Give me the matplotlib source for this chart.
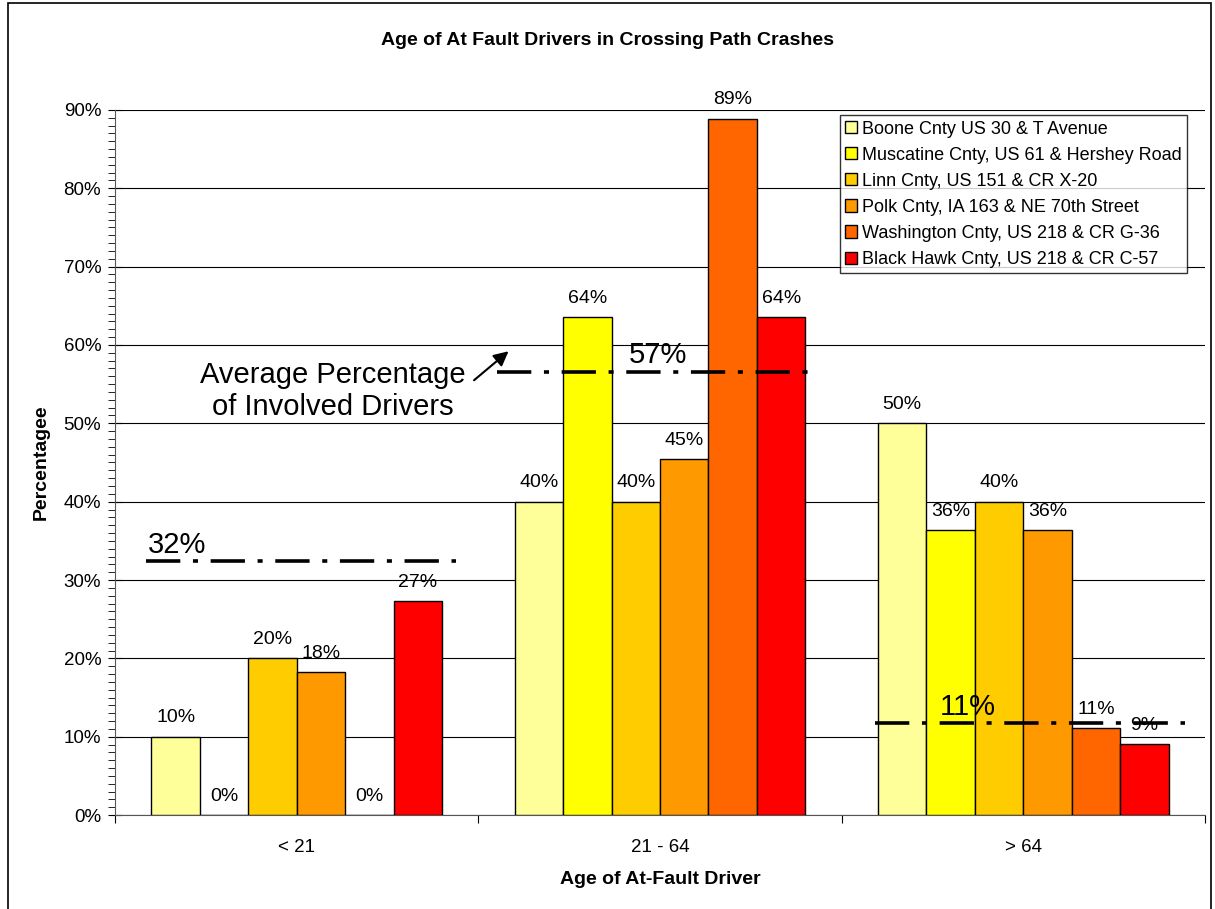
import numpy as np
import matplotlib.pyplot as plt
from matplotlib.patches import Rectangle
from matplotlib.ticker import MultipleLocator, PercentFormatter

plt.rcParams['font.family'] = ['Liberation Sans', 'DejaVu Sans']

groups = ['< 21', '21 - 64', '> 64']
sites = ['Boone Cnty US 30 & T Avenue',
         'Muscatine Cnty, US 61 & Hershey Road',
         'Linn Cnty, US 151 & CR X-20',
         'Polk Cnty, IA 163 & NE 70th Street',
         'Washington Cnty, US 218 & CR G-36',
         'Black Hawk Cnty, US 218 & CR C-57']
colors = ['#FFFF99', '#FFFF00', '#FFCC00', '#FF9900', '#FF6600', '#FF0000']

# percent of at-fault drivers, rows = sites, cols = age groups
values = [
    [10.0, 40.0, 50.0],
    [0.0, 63.6, 36.4],
    [20.0, 40.0, 40.0],
    [18.2, 45.4, 36.4],
    [0.0, 88.9, 11.1],
    [27.3, 63.6, 9.1],
]
avg_values = [32.4, 56.6, 11.7]
avg_labels = ['32%', '57%', '11%']

fig = plt.figure(figsize=(12.15, 9.09), dpi=100)
ax = fig.add_axes([0.0947, 0.1034, 0.8971, 0.7756])

x = np.arange(len(groups))
w = 0.8 / len(sites)
for i, (name, col) in enumerate(zip(sites, colors)):
    pos = x - 0.4 + w * (i + 0.5)
    ax.bar(pos, values[i], width=w, color=col, edgecolor='black',
           linewidth=1, label=name, zorder=3)
    for p, v in zip(pos, values[i]):
        ax.text(p, v + 1.3, '%d%%' % round(v), ha='center', va='bottom',
                fontsize=14, zorder=5, clip_on=False)

# average lines
starts = [-0.416, 0.551, 1.592]
ends = [0.438, 1.413, 2.446]
lab_x = [-0.41, 0.915, 1.77]
for s, e, v, t, lx in zip(starts, ends, avg_values, avg_labels, lab_x):
    ax.plot([s, e], [v, v], color='black', lw=2.6,
            linestyle=(0, (9.5, 3.5, 1.4, 3.5)), zorder=4)
    ax.text(lx, v + 0.3, t, fontsize=21, ha='left', va='bottom', zorder=6)

ax.text(0.10, 54.1, 'Average Percentage\nof Involved Drivers', fontsize=21,
        ha='center', va='center', linespacing=1.2, zorder=6)
ax.annotate('', xy=(0.583, 59.2), xytext=(0.488, 55.5),
            arrowprops=dict(arrowstyle='-|>', color='black', lw=1.5,
                            mutation_scale=22, shrinkA=0, shrinkB=0),
            zorder=6)

ax.set_xlim(-0.5, 2.5)
ax.set_ylim(0, 90)
ax.yaxis.set_major_locator(MultipleLocator(10))
ax.yaxis.set_minor_locator(MultipleLocator(1))
ax.yaxis.set_major_formatter(PercentFormatter(decimals=0))
ax.grid(axis='y', color='black', lw=0.8, zorder=0)
ax.set_axisbelow(True)

ax.set_xticks([-0.5, 0.5, 1.5, 2.5])
ax.set_xticklabels([])
ax.set_xticks(x, minor=True)
ax.set_xticklabels(groups, minor=True)
ax.tick_params(axis='x', which='minor', length=0, pad=17, labelsize=13.5)
ax.tick_params(axis='x', which='major', length=6, direction='out')
ax.tick_params(axis='y', which='major', length=10, direction='inout',
               labelsize=13.5, pad=5)
ax.tick_params(axis='y', which='minor', length=5, direction='out')

for sp in ['top', 'right']:
    ax.spines[sp].set_visible(False)
ax.spines['left'].set_color('#555555')
ax.spines['bottom'].set_color('#555555')

ax.set_xlabel('Age of At-Fault Driver', fontsize=14, fontweight='bold', labelpad=11)
ax.set_ylabel('Percentagee', fontsize=14, fontweight='bold', labelpad=10)
fig.text(0.5, 0.955, 'Age of At Fault Drivers in Crossing Path Crashes',
         ha='center', va='center', fontsize=14, fontweight='bold')

leg = ax.legend(loc='upper right', bbox_to_anchor=(0.985, 0.995), fontsize=13,
                frameon=True, fancybox=False, edgecolor='black',
                handlelength=0.65, handleheight=0.65, handletextpad=0.25,
                borderpad=0.3, labelspacing=0.5, borderaxespad=0.1)
leg.get_frame().set_linewidth(1)
leg.set_zorder(10)

fig.patches.append(Rectangle((8 / 1215, -0.05), 1203 / 1215, 1.047,
                             transform=fig.transFigure, fill=False,
                             edgecolor='black', lw=1.2))

fig.savefig('out.png', dpi=100)
